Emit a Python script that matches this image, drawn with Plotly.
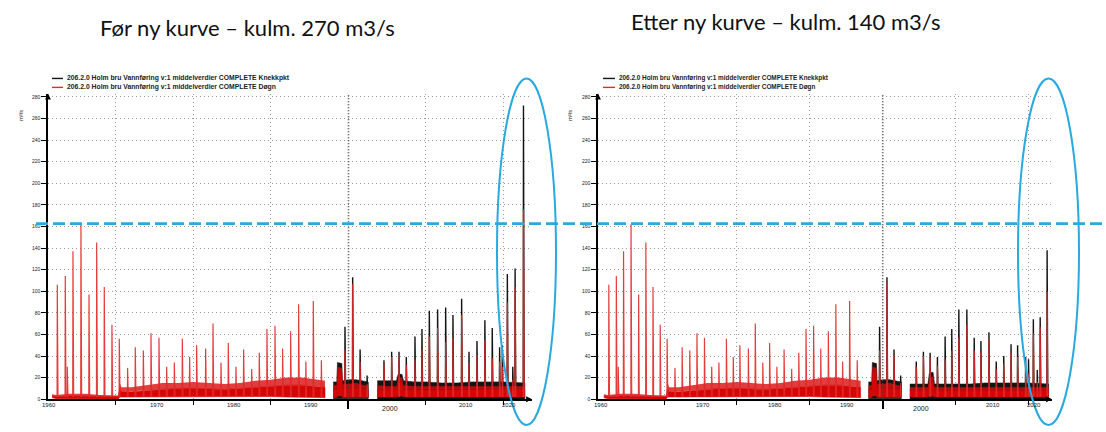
import plotly.graph_objects as go

# ---------------- data ----------------
# Daily series before 1998 (identical in both panels): annual flood peaks
pre_peak_t = [1962.43, 1963.46, 1963.72, 1964.45, 1965.48, 1966.52, 1967.51, 1968.49, 1969.48,
              1970.43, 1971.50, 1972.49, 1973.53, 1974.52, 1975.55, 1976.54, 1977.53, 1978.56,
              1979.50, 1980.41, 1981.57, 1982.52, 1983.55, 1984.49, 1985.48, 1986.47, 1987.51,
              1988.49, 1989.48, 1990.52, 1991.50, 1992.54, 1993.57, 1994.50, 1995.46, 1996.50]
pre_peak_v = [106, 114, 30, 137, 162, 97, 145, 104, 69,
              56, 29, 48, 45, 61, 57, 30, 34, 56,
              39, 50, 47, 70, 34, 52, 30, 46, 28,
              43, 65, 68, 47, 63, 88, 35, 91, 36]
# low-flow band of the daily series before 1998: bottom, dense core top, outer (noisy) top
pre_band_t = [1961.75, 1962.3, 1964.0, 1966.0, 1968.0, 1970.3, 1970.5, 1970.7, 1972.0, 1974.0, 1976.0,
              1978.0, 1980.0, 1982.0, 1984.0, 1986.0, 1988.0, 1990.0, 1992.0, 1994.0, 1996.0, 1996.97]
pre_band_lo = [1.5, 0.5, 0.5, 0.5, 0.3, 0.3, 2.0, 2.5, 2.5, 2.5, 2.5,
               2.0, 2.0, 2.0, 2.0, 2.0, 2.5, 2.5, 2.0, 1.5, 1.5, 1.5]
pre_band_core = [3.0, 2.5, 3.0, 3.0, 2.5, 2.5, 10.0, 7.0, 7.0, 8.0, 9.0,
                 10.0, 10.0, 9.5, 9.0, 10.0, 11.0, 12.0, 13.0, 13.0, 12.0, 11.0]
pre_band_hi = [4.5, 4.0, 5.0, 5.0, 4.0, 3.5, 15.0, 11.0, 11.0, 13.0, 15.0,
               15.0, 16.0, 15.0, 14.0, 15.0, 17.0, 18.0, 20.0, 20.0, 18.0, 17.0]

# band time knots after 1998 (two segments)
seg2_t = [1998.04, 1998.5, 1998.58, 1999.15, 1999.22, 2000.0, 2001.0, 2002.0, 2002.55]
seg3_t = [2003.72, 2005.0, 2006.2, 2006.4, 2006.9, 2007.1, 2008.5, 2010.0, 2012.0, 2014.0,
          2016.0, 2018.0, 2020.0, 2022.75]

# ---- left panel (old rating curve) ----
L_peak_t = [1999.55, 2000.54, 2001.50, 2002.40, 2004.58, 2005.57, 2006.52, 2007.46, 2008.58,
            2009.48, 2010.43, 2011.50, 2012.54, 2013.48, 2014.60, 2015.55, 2016.58, 2017.60,
            2018.55, 2019.50, 2019.85, 2020.50, 2021.20, 2021.50, 2022.58]
L_black_v = [67, 113, 46, 22, 36, 44, 44, 39, 58, 65, 82, 83, 85, 78, 93, 44, 54, 73,
             66, 48, 50, 116, 30, 121, 272]
L_red_v = [46, 107, 35, 14, 32, 39, 40, 32, 37, 46, 58, 66, 53, 57, 78, 34, 41, 55,
           38, 35, 30, 90, 18, 104, 176]
L_red_seg2_lo = [1.5, 1.5, 3, 3, 1.5, 1.5, 1.5, 1.5, 1.5]
L_red_seg2_core = [9, 9, 26, 25, 10, 10, 10, 9, 9]
L_red_seg2_hi = [13, 13, 30, 29, 14, 14, 15, 13, 12]
L_blk_seg2_lo = [0.5, 0.5, 1, 1, 0.5, 0.5, 0.5, 0.5, 0.5]
L_blk_seg2_hi = [16, 16, 34, 33, 17, 18, 18, 17, 16]
L_red_seg3_lo = [2, 2, 2, 3, 3, 2, 2, 2, 2, 2, 2, 2, 2, 2]
L_red_seg3_core = [9, 8.5, 8.5, 15, 15, 9, 8.5, 8.5, 8.5, 8.5, 8.5, 8.5, 8.5, 8.5]
L_red_seg3_hi = [13, 12, 12, 20, 20, 13, 12, 12, 12, 12, 12, 12, 12, 12]
L_blk_seg3_lo = [0.3, 0.3, 0.3, 0.5, 0.5, 0.3, 0.3, 0.3, 0.3, 0.3, 0.3, 0.3, 0.3, 0.3]
L_blk_seg3_hi = [17, 17, 17, 23, 23, 17, 16, 16, 15, 15, 16, 16, 16, 15]

# ---- right panel (new rating curve) ----
R_peak_t = [1999.57, 2000.58, 2001.55, 2002.46, 2004.60, 2005.58, 2006.50, 2007.50, 2008.56,
            2009.47, 2010.44, 2011.54, 2012.55, 2013.47, 2014.57, 2015.57, 2016.60, 2017.60,
            2018.50, 2019.60, 2020.00, 2020.66, 2021.20, 2021.60, 2022.55]
R_black_v = [67, 113, 46, 22, 35, 44, 43, 39, 58, 65, 83, 83, 57, 54, 62, 35, 40, 51,
             50, 39, 37, 74, 27, 76, 138]
R_red_v = [45, 107, 41, 15, 30, 40, 39, 31, 37, 45, 57, 69, 45, 44, 56, 28, 33, 43,
           39, 30, 24, 61, 16, 67, 100]
R_red_seg2_lo = [1.5, 1.5, 3, 3, 1.5, 1.5, 1.5, 1.5, 1.5]
R_red_seg2_core = [9, 9, 26, 25, 10, 10, 10, 9, 9]
R_red_seg2_hi = [13, 13, 30, 29, 14, 14, 15, 13, 12]
R_blk_seg2_lo = [0.5, 0.5, 1, 1, 0.5, 0.5, 0.5, 0.5, 0.5]
R_blk_seg2_hi = [16, 16, 34, 33, 17, 18, 18, 17, 16]
R_red_seg3_lo = [2, 2, 2, 3, 3, 2, 2, 2, 2, 2, 2, 2, 2, 2]
R_red_seg3_core = [8, 8, 8, 15, 16, 8, 8, 8, 8, 8, 8, 8, 8, 8]
R_red_seg3_hi = [11, 11, 11, 20, 21, 11, 11, 11, 11, 11, 11, 11, 11, 11]
R_blk_seg3_lo = [0.3, 0.3, 0.3, 0.5, 0.5, 0.3, 0.3, 0.3, 0.3, 0.3, 0.3, 0.3, 0.3, 0.3]
R_blk_seg3_hi = [14, 14, 14, 24, 25, 14, 14, 14, 14, 15, 15, 15, 15, 14]

ref_level = 162.5          # dashed blue reference line (m3/s)
y_ticks = list(range(0, 281, 20))
grid_years = [1970, 1980, 1990, 2010, 2020]
heavy_year = 2000
tick_labels = ["1960", "1970", "1980", "1990", "2000", "2010", "2020"]
tick_label_years = [1961.3, 1975.3, 1985.2, 1995.1, 2005.3, 2015.1, 2020.7]

titles = ["Før ny kurve – kulm. 270 m3/s", "Etter ny kurve – kulm. 140 m3/s"]
legend_texts = ["206.2.0 Holm bru Vannføring v:1 middelverdier COMPLETE Knekkpkt",
                "206.2.0 Holm bru Vannføring v:1 middelverdier COMPLETE Døgn"]

# ---------------- styling / layout ----------------
W, H = 1106, 432
RED = "rgb(212,6,6)"
RED_FRINGE = "rgba(216,14,14,0.8)"
RED_SPIKE = "rgba(226,40,40,0.9)"
BLK = "rgb(20,20,20)"
BLUE = "#2aa9e0"
GRID = "#9a9a9a"

x_dom = {"L": [48 / W, 532 / W], "R": [598 / W, 1052 / W]}
x_rng = {"L": [1961.23, 2023.68], "R": [1960.946, 2023.22]}
y_dom = [30 / H, (H - 94.24) / H]
y_rng = [0, 283]


def spikes(t, v, base=2.0, dl=0.03, dr=0.09):
    xs, ys = [], []
    for ti, vi in zip(t, v):
        xs += [ti - dl, ti, ti + dr, None]
        ys += [base, vi, base, None]
    return xs, ys


def band(t, lo, hi, color, xa, ya, lw=0.6):
    return go.Scatter(x=list(t) + list(t)[::-1], y=list(hi) + list(lo)[::-1],
                      fill="toself", fillcolor=color, mode="lines",
                      line=dict(color=color, width=lw), hoverinfo="skip",
                      showlegend=False, xaxis=xa, yaxis=ya)


def line(xs, ys, color, width, xa, ya):
    return go.Scatter(x=xs, y=ys, mode="lines", line=dict(color=color, width=width),
                      hoverinfo="skip", showlegend=False, xaxis=xa, yaxis=ya,
                      connectgaps=False)


fig = go.Figure()

panels = {
    "L": dict(xa="x", ya="y", pt=L_peak_t, bv=L_black_v, rv=L_red_v,
              r2=(L_red_seg2_lo, L_red_seg2_core, L_red_seg2_hi), b2=(L_blk_seg2_lo, L_blk_seg2_hi),
              r3=(L_red_seg3_lo, L_red_seg3_core, L_red_seg3_hi), b3=(L_blk_seg3_lo, L_blk_seg3_hi)),
    "R": dict(xa="x2", ya="y2", pt=R_peak_t, bv=R_black_v, rv=R_red_v,
              r2=(R_red_seg2_lo, R_red_seg2_core, R_red_seg2_hi), b2=(R_blk_seg2_lo, R_blk_seg2_hi),
              r3=(R_red_seg3_lo, R_red_seg3_core, R_red_seg3_hi), b3=(R_blk_seg3_lo, R_blk_seg3_hi)),
}

for key, p in panels.items():
    xa, ya = p["xa"], p["ya"]
    # black (Knekkpkt) series - drawn first
    fig.add_trace(band(seg2_t, p["b2"][0], p["b2"][1], BLK, xa, ya))
    fig.add_trace(band(seg3_t, p["b3"][0], p["b3"][1], BLK, xa, ya))
    bx, by = spikes(p["pt"], p["bv"])
    fig.add_trace(line(bx, by, BLK, 1.4, xa, ya))
    # red (Døgn) series on top: noisy outer fringe, dense core, flood spikes
    for t, (lo, core, hi) in ((pre_band_t, (pre_band_lo, pre_band_core, pre_band_hi)),
                             (seg2_t, p["r2"]), (seg3_t, p["r3"])):
        fig.add_trace(band(t, core, hi, RED_FRINGE, xa, ya, lw=0))
        fig.add_trace(band(t, lo, core, RED, xa, ya))
    rx, ry = spikes(pre_peak_t + p["pt"], pre_peak_v + p["rv"])
    fig.add_trace(line(rx, ry, RED_SPIKE, 1.2, xa, ya))

# dummy traces to anchor the overlay axes carrying the heavy 2000 tick
fig.add_trace(go.Scatter(x=[], y=[], xaxis="x3", yaxis="y", showlegend=False))
fig.add_trace(go.Scatter(x=[], y=[], xaxis="x4", yaxis="y2", showlegend=False))

axis_font = dict(family="Liberation Sans", size=5, color="#222")
common_x = dict(showline=True, linecolor="black", linewidth=1.5, tickvals=grid_years,
                ticks="outside", ticklen=4, tickcolor="black", tickwidth=1,
                showticklabels=False, showgrid=True, gridcolor=GRID, griddash="1px,3px",
                gridwidth=1, zeroline=False, fixedrange=True)
common_y = dict(showline=True, linecolor="black", linewidth=1.5, tickvals=y_ticks,
                ticks="outside", ticklen=5, tickcolor="black", tickwidth=1,
                tickfont=axis_font, showgrid=True, gridcolor=GRID, griddash="1px,3px",
                gridwidth=1, zeroline=False, range=y_rng, domain=y_dom, fixedrange=True)
heavy_x = dict(showline=False, tickvals=[heavy_year], ticks="outside", ticklen=9,
               tickwidth=2, tickcolor="black", showticklabels=False, showgrid=False,
               zeroline=False)

fig.update_layout(
    width=W, height=H, margin=dict(l=0, r=0, t=0, b=0), autosize=False,
    paper_bgcolor="white", plot_bgcolor="white", showlegend=False,
    xaxis=dict(domain=x_dom["L"], range=x_rng["L"], anchor="y", **common_x),
    yaxis=dict(anchor="x", **common_y),
    xaxis2=dict(domain=x_dom["R"], range=x_rng["R"], anchor="y2", **common_x),
    yaxis2=dict(anchor="x2", **common_y),
    xaxis3=dict(domain=x_dom["L"], range=x_rng["L"], anchor="y", overlaying="x", **heavy_x),
    xaxis4=dict(domain=x_dom["R"], range=x_rng["R"], anchor="y2", overlaying="x2", **heavy_x),
)

shapes = []
annotations = []
for key, (xr, yr) in {"L": ("x", "y"), "R": ("x2", "y2")}.items():
    # heavy dotted line at 2000
    shapes.append(dict(type="line", xref=xr, yref=yr, x0=heavy_year, x1=heavy_year,
                       y0=0, y1=y_rng[1], line=dict(color="#444", width=1.6, dash="1px,2px")))
    # axis arrows
    annotations.append(dict(xref=xr, yref=yr, x=x_rng[key][0], y=y_rng[1], ax=0, ay=7,
                            text="", showarrow=True, arrowhead=2, arrowsize=0.9,
                            arrowwidth=1.3, arrowcolor="black"))
    annotations.append(dict(xref=xr, yref=yr, x=x_rng[key][1], y=0, ax=-7, ay=0,
                            text="", showarrow=True, arrowhead=2, arrowsize=0.9,
                            arrowwidth=1.3, arrowcolor="black"))
    # x tick labels
    for lab, yrv in zip(tick_labels, tick_label_years):
        low = lab == "2000"
        annotations.append(dict(xref=xr, yref="paper", x=yrv,
                                y=(H - (411 if low else 408)) / H, text=lab,
                                showarrow=False, xanchor="center", yanchor="middle",
                                font=dict(family="Liberation Sans", size=7 if low else 6,
                                          color="#222")))

# y-axis unit labels
for xpx in (16, 570):
    annotations.append(dict(xref="paper", yref="paper", x=xpx / W, y=(H - 109) / H,
                            text="m³/s", textangle=-90, showarrow=False,
                            font=dict(family="Liberation Sans", size=5.5, color="#111")))

# legends
for lx0, lx1, tx, fs in ((52, 63, 65, 6.8), (603, 615, 617, 6.4)):
    for yy, col, txt in ((79, BLK, legend_texts[0]), (88, "rgb(230,40,40)", legend_texts[1])):
        shapes.append(dict(type="line", xref="paper", yref="paper", x0=lx0 / W, x1=lx1 / W,
                           y0=(H - yy) / H, y1=(H - yy) / H, line=dict(color=col, width=1.4)))
        annotations.append(dict(xref="paper", yref="paper", x=tx / W, y=(H - yy) / H,
                                text=txt, showarrow=False, xanchor="left", yanchor="middle",
                                font=dict(family="Liberation Sans", size=fs, color="#222",
                                          weight="bold")))

# titles
annotations.append(dict(xref="paper", yref="paper", x=247 / W, y=(H - 28) / H, text=titles[0],
                        showarrow=False, xanchor="center", yanchor="middle",
                        font=dict(family="Lato", size=22, color="#111")))
annotations.append(dict(xref="paper", yref="paper", x=786 / W, y=(H - 22) / H, text=titles[1],
                        showarrow=False, xanchor="center", yanchor="middle",
                        font=dict(family="Lato", size=22, color="#111")))

# blue dashed reference line and highlight ellipses
shapes.append(dict(type="line", xref="paper", yref="y", x0=36 / W, x1=1.0,
                   y0=ref_level, y1=ref_level, line=dict(color=BLUE, width=2.8, dash="12px,5px")))
shapes.append(dict(type="circle", xref="paper", yref="paper", x0=497 / W, x1=556 / W,
                   y0=(H - 428) / H, y1=(H - 79) / H, line=dict(color=BLUE, width=2)))
shapes.append(dict(type="circle", xref="paper", yref="paper", x0=1018 / W, x1=1079 / W,
                   y0=(H - 428) / H, y1=(H - 79) / H, line=dict(color=BLUE, width=2)))

fig.update_layout(shapes=shapes, annotations=annotations)
fig.write_html("out.html", config={"displayModeBar": False},
               post_script="document.body.style.margin='0px';")
